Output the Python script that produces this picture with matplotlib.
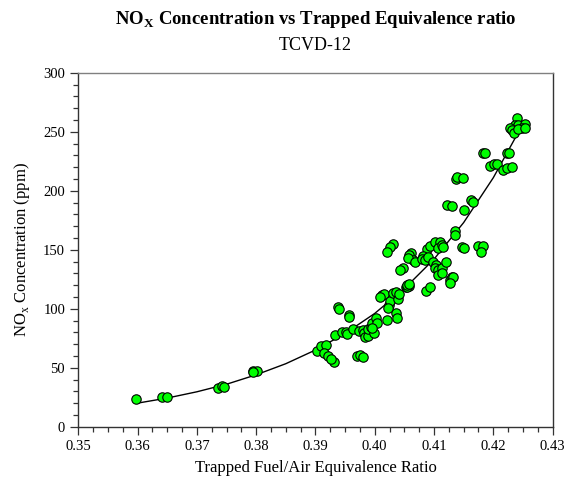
import numpy as np
import matplotlib
matplotlib.use('Agg')
import matplotlib.pyplot as plt
from matplotlib.ticker import MultipleLocator

plt.rcParams['font.family'] = ['Liberation Serif', 'DejaVu Serif']
plt.rcParams['mathtext.fontset'] = 'custom'
plt.rcParams['mathtext.rm'] = 'Liberation Serif'
plt.rcParams['mathtext.bf'] = 'Liberation Serif:bold'

# measured points (equivalence ratio, NOx ppm)
phi = [0.3597, 0.3642, 0.3650, 0.3736, 0.3743, 0.3746, 0.3794, 0.3801, 0.3795,
       0.3903, 0.3910, 0.3917, 0.3914, 0.3922, 0.3931, 0.3927, 0.3933, 0.3938,
       0.3940, 0.3957, 0.3957, 0.3944, 0.3951, 0.3953, 0.3964, 0.3974, 0.3980,
       0.3982, 0.3983, 0.3989, 0.3989, 0.3993, 0.3995, 0.4002, 0.4003, 0.3999,
       0.3996, 0.3970, 0.3975, 0.3981, 0.4021, 0.4036, 0.4037, 0.4012, 0.4016,
       0.4024, 0.4026, 0.4031, 0.4036, 0.4040, 0.4041, 0.4053, 0.4048, 0.4042,
       0.4057, 0.4054, 0.4031, 0.4026, 0.4020, 0.4062, 0.4058, 0.4065, 0.4056,
       0.4068, 0.4088, 0.4093, 0.4102, 0.4110, 0.4107, 0.4113, 0.4116, 0.4082,
       0.4079, 0.4085, 0.4090, 0.4099, 0.4104, 0.4102, 0.4107, 0.4113, 0.4121,
       0.4107, 0.4113, 0.4127, 0.4131, 0.4132, 0.4127, 0.4086, 0.4093, 0.4135,
       0.4135, 0.4147, 0.4150, 0.4175, 0.4182, 0.4180, 0.4122, 0.4131, 0.4150,
       0.4162, 0.4166, 0.4137, 0.4138, 0.4149, 0.4182, 0.4186, 0.4223, 0.4227,
       0.4194, 0.4201, 0.4206, 0.4216, 0.4223, 0.4231, 0.4240, 0.4236, 0.4242,
       0.4253, 0.4249, 0.4228, 0.4231, 0.4235, 0.4242, 0.4253, 0.4023, 0.4009,
       0.4054, 0.4058]
nox = [23.5, 25.4, 25.4, 33.0, 34.5, 33.4, 47.5, 47.5, 46.4,
       64.4, 68.4, 69.2, 62.7, 59.9, 54.6, 57.0, 77.5, 101.2,
       99.5, 94.7, 93.2, 80.0, 80.5, 78.6, 82.5, 81.4, 82.0,
       79.7, 75.8, 76.9, 82.5, 84.7, 88.1, 91.9, 88.1, 79.2,
       83.4, 59.9, 60.8, 58.8, 90.4, 96.1, 91.9, 111.6, 112.5,
       103.1, 106.8, 113.6, 114.4, 108.0, 112.5, 118.1, 134.2, 132.4,
       119.2, 118.1, 154.8, 152.5, 148.3, 147.5, 145.5, 141.3, 142.7,
       139.8, 150.3, 153.1, 156.8, 156.8, 151.2, 154.0, 152.5, 144.7,
       141.9, 141.3, 143.6, 139.8, 137.0, 134.2, 132.8, 134.2, 139.8,
       128.6, 130.0, 124.3, 127.1, 126.6, 121.5, 115.3, 118.1, 166.1,
       162.5, 152.5, 151.2, 153.1, 153.1, 148.3, 187.9, 187.0, 183.6,
       192.1, 190.7, 209.6, 211.3, 210.5, 231.7, 231.7, 231.7, 232.3,
       220.9, 222.6, 222.6, 217.5, 219.0, 219.8, 261.4, 255.7, 255.7,
       256.5, 253.0, 253.0, 251.5, 248.6, 252.0, 253.0, 100.3, 110.0,
       120.0, 121.0]

# trend curve
fit_phi = [0.360, 0.365, 0.370, 0.375, 0.380, 0.385, 0.390, 0.395, 0.400,
           0.405, 0.410, 0.415, 0.420, 0.4245]
fit_nox = [20, 24.3, 29.6, 36, 44, 53.4, 65, 79, 96, 117, 142, 173, 211, 252]

fig = plt.figure(figsize=(5.65, 4.8), dpi=100)
ax = fig.add_axes([0.1386, 0.111, 0.8394, 0.7375])

ax.plot(fit_phi, fit_nox, color='black', lw=1.0, zorder=2)
ax.scatter(phi, nox, s=46, c='#00ff00', edgecolors='black', linewidths=0.8, zorder=3)

ax.set_xlim(0.35, 0.43)
ax.set_ylim(0, 300)
ax.xaxis.set_major_locator(MultipleLocator(0.01))
ax.xaxis.set_minor_locator(MultipleLocator(0.0025))
ax.yaxis.set_major_locator(MultipleLocator(50))
ax.yaxis.set_minor_locator(MultipleLocator(10))
ax.xaxis.set_major_formatter(matplotlib.ticker.FormatStrFormatter('%.2f'))
ax.tick_params(which='major', direction='out', length=6, width=0.9,
               labelsize=10.5, color='#333333', top=False, right=False)
ax.tick_params(which='minor', direction='out', length=3.5, width=0.9,
               color='#333333', top=False, right=False)
for side in ['left', 'bottom', 'right']:
    ax.spines[side].set_color('#333333')
ax.spines['top'].set_color('#808080')
for s in ax.spines.values():
    s.set_linewidth(1.0)

ax.set_xlabel('Trapped Fuel/Air Equivalence Ratio', fontsize=12, labelpad=5)
ax.set_ylabel(r'NO$_\mathrm{x}$ Concentration (ppm)', fontsize=12, labelpad=8)

cx = 315.5 / 565
fig.text(cx, 1 - 24 / 480, r'NO$_\mathbf{X}$ Concentration vs Trapped Equivalence ratio',
         ha='center', va='baseline', fontsize=13.5, fontweight='bold')
fig.text(cx, 1 - 49.5 / 480, 'TCVD-12', ha='center', va='baseline', fontsize=13)

fig.savefig('out.png', dpi=100)
